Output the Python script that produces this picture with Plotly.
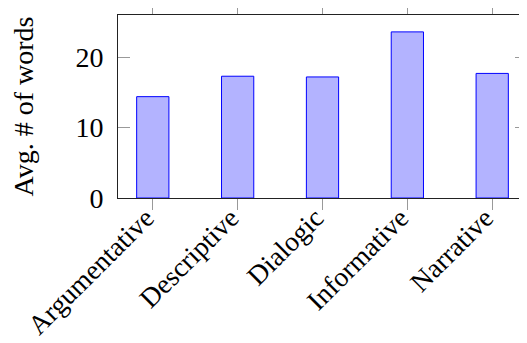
import plotly.graph_objects as go

categories = ["Argumentative", "Descriptive", "Dialogic", "Informative", "Narrative"]
avg_words = [14.4, 17.3, 17.2, 23.6, 17.7]
y_ticks = [0, 10, 20]

FONT = "Liberation Serif"
FS = 28
FS_X = 27.5

# the page body has an 8px margin, so the figure is 8px smaller and starts at (8, 8)
fig = go.Figure()
fig.add_trace(go.Bar(
    x=categories,
    y=avg_words,
    marker=dict(color="rgb(179,179,255)", line=dict(color="rgb(0,0,255)", width=1)),
    width=0.38,
))

fig.update_layout(
    width=519,
    height=335,
    margin=dict(l=110, r=0, t=7, b=145, autoexpand=False),
    paper_bgcolor="white",
    plot_bgcolor="white",
    showlegend=False,
    font=dict(family=FONT, size=FS, color="black"),
    xaxis=dict(
        type="category",
        range=[-0.41, 4.41],
        automargin=False,
        showline=True,
        linecolor="#222",
        linewidth=1,
        mirror="ticks",
        ticks="outside",
        ticklen=11,
        tickcolor="#999",
        tickwidth=1,
        tickangle=-45,
        ticklabelstandoff=-19,
        ticklabelshift=-7,
        showgrid=False,
        zeroline=False,
        tickfont=dict(family=FONT, size=FS_X),
    ),
    yaxis=dict(
        range=[0, 26],
        tickvals=y_ticks,
        automargin=False,
        showline=True,
        linecolor="#222",
        linewidth=1,
        mirror="ticks",
        ticks="inside",
        ticklen=12,
        tickcolor="#999",
        tickwidth=1,
        showgrid=False,
        zeroline=False,
        ticklabelstandoff=8,
        tickfont=dict(family=FONT, size=FS),
        title=dict(text="Avg. # of words", font=dict(family=FONT, size=FS), standoff=35),
    ),
)

fig.write_html("out.html")
